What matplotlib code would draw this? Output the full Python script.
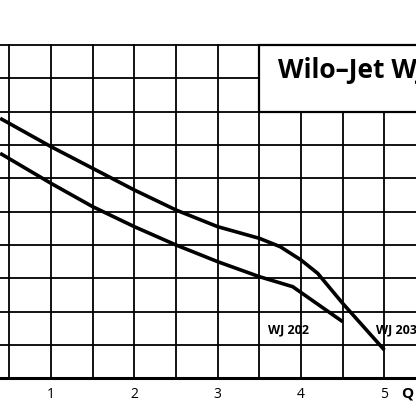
import matplotlib
matplotlib.use("Agg")
import matplotlib.pyplot as plt
import numpy as np
from matplotlib.patches import Rectangle

# curve readings: Q [m3/h], H
q_203 = [0.39, 1.0, 1.5, 2.0, 2.5, 3.0, 3.5, 3.75, 4.0, 4.2, 4.5, 5.0]
h_203 = [7.8, 6.95, 6.3, 5.65, 5.05, 4.55, 4.2, 3.95, 3.55, 3.15, 2.25, 0.85]
q_202 = [0.39, 1.0, 1.5, 2.0, 2.5, 3.0, 3.5, 3.9, 4.1, 4.5]
h_202 = [6.75, 5.85, 5.15, 4.55, 4.0, 3.5, 3.05, 2.75, 2.4, 1.7]
q_ticks = [1, 2, 3, 4, 5]

fig = plt.figure(figsize=(4.16, 4.16), dpi=100)
ax = fig.add_axes([0, 0, 1, 1])
ax.set_xlim(0.388, 5.38)
ax.set_ylim(-1.13, 11.35)
ax.axis('off')

# grid (blanked under the title box)
for x in np.arange(0.5, 5.5, 0.5):
    top = 10 if x <= 3.5 else 8
    ax.plot([x, x], [0, top], color='black', lw=1.3)
for y in range(1, 11):
    x1 = 5.38 if y <= 8 else 3.5
    ax.plot([0.388, x1], [y, y], color='black', lw=1.3)
ax.plot([0.388, 5.38], [0, 0], color='black', lw=2.2)

ax.add_patch(Rectangle((3.5, 8), 2.5, 2, fill=False, ec='black', lw=1.6))
ax.text(3.72, 9.25, 'Wilo–Jet WJ', fontsize=19, fontweight='bold',
        family='Open Sans', va='center', ha='left')

ax.plot(q_203, h_203, color='black', lw=2.6, solid_capstyle='butt')
ax.plot(q_202, h_202, color='black', lw=2.6, solid_capstyle='butt')
ax.text(3.6, 1.45, 'WJ 202', fontsize=9, fontweight='bold', family='Open Sans', va='center')
ax.text(4.9, 1.45, 'WJ 203', fontsize=9, fontweight='bold', family='Open Sans', va='center')

for q in q_ticks:
    ax.text(q, -0.5, str(q), fontsize=10, ha='center', va='center', family='Open Sans')
ax.text(5.2, -0.45, 'Q', fontsize=11, fontweight='bold', ha='left', va='center', family='Open Sans')

fig.savefig('out.png', dpi=100)
